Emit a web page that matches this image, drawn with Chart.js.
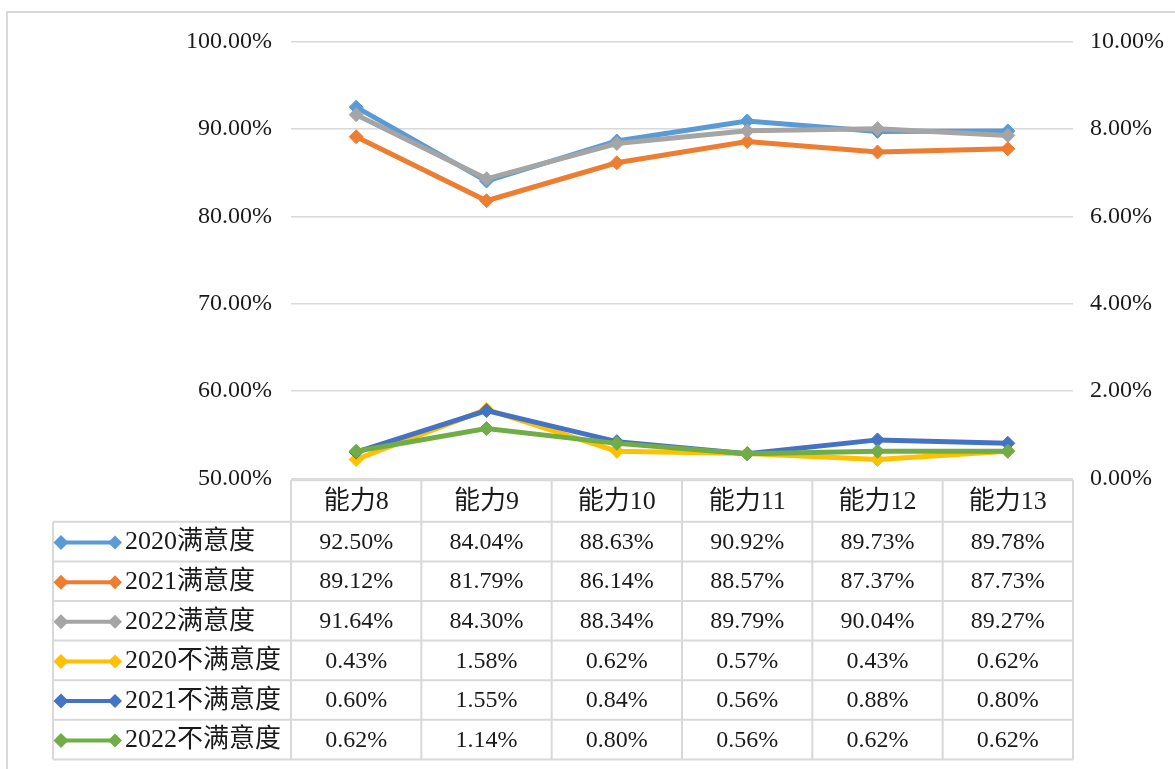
<!DOCTYPE html>
<html>
<head>
<meta charset="utf-8">
<script src="https://cdn.jsdelivr.net/npm/chart.js@4.4.1/dist/chart.umd.min.js"></script>
<style>
  html, body { margin: 0; padding: 0; background: #fff; }
  #wrap { width: 1175px; height: 769px; position: relative; }
</style>
</head>
<body>
<div id="wrap"><canvas id="c"></canvas></div>
<script>
// Categories and series
const categories = ['能力8', '能力9', '能力10', '能力11', '能力12', '能力13'];
const seriesNames = ['2020满意度', '2021满意度', '2022满意度', '2020不满意度', '2021不满意度', '2022不满意度'];
const sat2020 = [92.50, 84.04, 88.63, 90.92, 89.73, 89.78];
const sat2021 = [89.12, 81.79, 86.14, 88.57, 87.37, 87.73];
const sat2022 = [91.64, 84.30, 88.34, 89.79, 90.04, 89.27];
const dis2020 = [0.43, 1.58, 0.62, 0.57, 0.43, 0.62];
const dis2021 = [0.60, 1.55, 0.84, 0.56, 0.88, 0.80];
const dis2022 = [0.62, 1.14, 0.80, 0.56, 0.62, 0.62];
// Axis ranges (percent)
const leftTicks = [50, 60, 70, 80, 90, 100];
const rightTicks = [0, 2, 4, 6, 8, 10];

const seriesValues = [sat2020, sat2021, sat2022, dis2020, dis2021, dis2022];
const seriesAxis = ['yL', 'yL', 'yL', 'yR', 'yR', 'yR'];
const colors = ['#5B9BD5', '#ED7D31', '#A5A5A5', '#FFC000', '#4472C4', '#70AD47'];

const FONT = '"Liberation Serif", "Noto Sans CJK SC", serif';
const NUM_SIZE = 24;
const CJK_SIZE = 26;
const TEXT_COLOR = '#1a1a1a';
const GRID = '#D9D9D9';
const pct = v => v.toFixed(2) + '%';

const datasets = seriesValues.map((vals, i) => ({
  label: seriesNames[i],
  data: vals,
  yAxisID: seriesAxis[i],
  borderColor: colors[i],
  backgroundColor: colors[i],
  borderWidth: 5,
  pointStyle: 'rectRot',
  pointRadius: 7,
  pointBorderWidth: 1,
  tension: 0,
  order: seriesValues.length - i   // later series paint on top
}));

function diamond(ctx, x, y, r, color) {
  ctx.beginPath();
  ctx.moveTo(x - r, y);
  ctx.lineTo(x, y - r);
  ctx.lineTo(x + r, y);
  ctx.lineTo(x, y + r);
  ctx.closePath();
  ctx.fillStyle = color;
  ctx.fill();
}

// Outer frame of the chart object
const framePlugin = {
  id: 'frame',
  beforeDraw(chart) {
    const ctx = chart.ctx;
    ctx.save();
    ctx.strokeStyle = GRID;
    ctx.lineWidth = 2;
    ctx.strokeRect(7, 12, chart.width, chart.height);
    ctx.restore();
  }
};

// Data table under the plot, columns aligned to the category scale
const tablePlugin = {
  id: 'dataTable',
  afterDraw(chart) {
    const ctx = chart.ctx;
    const xs = chart.scales.x;
    const area = chart.chartArea;
    const n = categories.length;
    const colW = (area.right - area.left) / n;
    const top = area.bottom + 2;
    const headH = 41.5;
    const rowH = 39.6;
    const labelLeft = 53;
    const bodyTop = top + headH;
    const bottom = bodyTop + rowH * seriesNames.length;

    ctx.save();
    ctx.strokeStyle = GRID;
    ctx.lineWidth = 2;
    ctx.beginPath();
    ctx.moveTo(area.left, top);
    ctx.lineTo(area.right, top);
    for (let r = 0; r <= seriesNames.length; r++) {
      const y = bodyTop + r * rowH;
      ctx.moveTo(labelLeft, y);
      ctx.lineTo(area.right, y);
    }
    ctx.moveTo(labelLeft, bodyTop);
    ctx.lineTo(labelLeft, bottom);
    for (let c = 0; c < n; c++) {
      const cx = xs.getPixelForValue(c);
      ctx.moveTo(cx - colW / 2, top);
      ctx.lineTo(cx - colW / 2, bottom);
      if (c === n - 1) {
        ctx.moveTo(cx + colW / 2, top);
        ctx.lineTo(cx + colW / 2, bottom);
      }
    }
    ctx.stroke();

    ctx.fillStyle = TEXT_COLOR;
    ctx.textBaseline = 'middle';
    ctx.textAlign = 'center';
    // header row
    ctx.font = CJK_SIZE + 'px ' + FONT;
    for (let c = 0; c < n; c++) {
      ctx.fillText(categories[c], xs.getPixelForValue(c), top + headH / 2 + 1);
    }
    // body rows
    for (let r = 0; r < seriesNames.length; r++) {
      const cy = bodyTop + r * rowH + rowH / 2;
      ctx.fillStyle = TEXT_COLOR;
      ctx.textAlign = 'center';
      ctx.font = NUM_SIZE + 'px ' + FONT;
      for (let c = 0; c < n; c++) {
        ctx.fillText(pct(seriesValues[r][c]), xs.getPixelForValue(c), cy + 1);
      }
      // legend key
      ctx.strokeStyle = colors[r];
      ctx.lineWidth = 4;
      ctx.beginPath();
      ctx.moveTo(60, cy + 1);
      ctx.lineTo(116, cy + 1);
      ctx.stroke();
      diamond(ctx, 61, cy + 1, 7.5, colors[r]);
      diamond(ctx, 115, cy + 1, 7, colors[r]);
      ctx.fillStyle = TEXT_COLOR;
      ctx.textAlign = 'left';
      ctx.font = CJK_SIZE + 'px ' + FONT;
      ctx.fillText(seriesNames[r], 125, cy + 1);
    }
    ctx.restore();
  }
};

new Chart(document.getElementById('c'), {
  type: 'line',
  data: { labels: categories, datasets },
  plugins: [framePlugin, tablePlugin],
  options: {
    responsive: true,
    maintainAspectRatio: false,
    animation: false,
    layout: { padding: { left: 0, right: 0, top: 41.7, bottom: 290.7 } },
    plugins: { legend: { display: false }, tooltip: { enabled: false } },
    scales: {
      x: { type: 'category', display: false, offset: true },
      yL: {
        position: 'left',
        min: leftTicks[0],
        max: leftTicks[leftTicks.length - 1],
        afterFit(s) { s.width = 291; },
        afterBuildTicks(s) { s.ticks = leftTicks.map(v => ({ value: v })); },
        border: { display: false },
        grid: { color: GRID, lineWidth: 1.5, drawTicks: false },
        ticks: {
          padding: 19,
          color: TEXT_COLOR,
          font: { family: FONT, size: NUM_SIZE },
          callback: v => pct(v)
        }
      },
      yR: {
        position: 'right',
        min: rightTicks[0],
        max: rightTicks[rightTicks.length - 1],
        afterFit(s) { s.width = 102; },
        afterBuildTicks(s) { s.ticks = rightTicks.map(v => ({ value: v })); },
        border: { display: false },
        grid: { display: false, drawTicks: false },
        ticks: {
          padding: 17,
          color: TEXT_COLOR,
          font: { family: FONT, size: NUM_SIZE },
          callback: v => pct(v)
        }
      }
    }
  }
});
</script>
</body>
</html>
